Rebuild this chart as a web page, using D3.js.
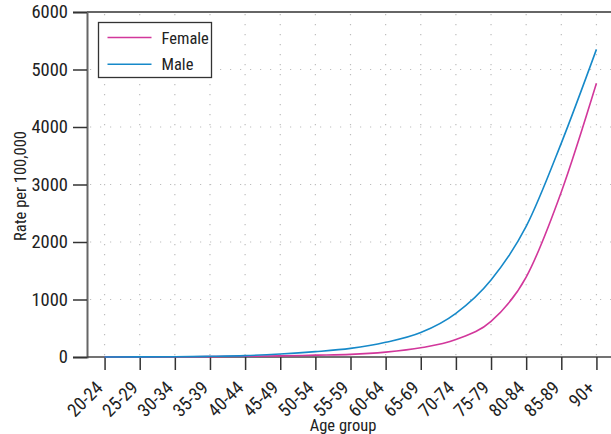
<!DOCTYPE html>
<html>
<head>
<meta charset="utf-8">
<script src="https://cdn.jsdelivr.net/npm/d3@7"></script>
<style>
  html, body { margin: 0; padding: 0; background: #fff; }
  svg { display: block; }
  text { font-family: Roboto, "DejaVu Sans Condensed", sans-serif; font-stretch: condensed; fill: #222; }
</style>
</head>
<body>
<svg id="chart" width="611" height="434"></svg>
<script>
// Age groups along the x axis
const ageGroups = ["20-24", "25-29", "30-34", "35-39", "40-44", "45-49", "50-54",
  "55-59", "60-64", "65-69", "70-74", "75-79", "80-84", "85-89", "90+"];

// Rates per 100,000 by sex
const femaleRates = [1, 2, 4, 7, 12, 20, 32, 45, 85, 160, 305, 620, 1390, 2870, 4760];
const maleRates = [1, 2, 5, 12, 24, 52, 93, 150, 255, 425, 760, 1340, 2270, 3720, 5350];

// Y axis ticks
const yTicks = [0, 1000, 2000, 3000, 4000, 5000, 6000];

const series = [
  { name: "Female", values: femaleRates, color: "#d2379b" },
  { name: "Male", values: maleRates, color: "#1689c9" }
];

const svg = d3.select("#chart");
const plot = { left: 87, right: 614, top: 12, bottom: 357 };

const x = d3.scalePoint()
  .domain(ageGroups)
  .range([plot.left, plot.right])
  .padding(0.5);

const y = d3.scaleLinear()
  .domain([0, 6000])
  .range([plot.bottom, plot.top]);

// Dotted grid
const grid = svg.append("g").attr("class", "grid")
  .attr("stroke", "#bdbdbd").attr("stroke-width", 1.2)
  .attr("stroke-dasharray", "1.2,8.8");

grid.selectAll("line.v").data(ageGroups).join("line")
  .attr("class", "v")
  .attr("x1", d => x(d)).attr("x2", d => x(d))
  .attr("y1", plot.top + 2).attr("y2", plot.bottom);

grid.selectAll("line.h").data(yTicks.filter(t => t > 0 && t < 6000)).join("line")
  .attr("class", "h")
  .attr("x1", plot.left + 3).attr("x2", 611)
  .attr("y1", d => y(d)).attr("y2", d => y(d));

// Top frame line
svg.append("line")
  .attr("x1", plot.left).attr("x2", 611)
  .attr("y1", y(6000)).attr("y2", y(6000))
  .attr("stroke", "#333").attr("stroke-width", 1.6);

// Y axis
const yAxis = svg.append("g")
  .attr("transform", `translate(${plot.left},0)`)
  .call(d3.axisLeft(y).tickValues(yTicks).tickSize(14).tickPadding(5).tickFormat(d3.format("d")));
yAxis.attr("font-family", null).attr("font-size", null);
yAxis.select(".domain").attr("stroke", "#666").attr("stroke-width", 2);
yAxis.selectAll(".tick line").attr("stroke", "#333").attr("stroke-width", 1.5);
yAxis.selectAll(".tick text").attr("font-size", 18.5).attr("fill", "#222");

// X axis with labels rotated so each ends just below its tick
const xAxis = svg.append("g")
  .attr("transform", `translate(0,${plot.bottom})`)
  .call(d3.axisBottom(x).tickSize(13).tickPadding(4));
xAxis.attr("font-family", null).attr("font-size", null);
xAxis.select(".domain").attr("d", `M${plot.left},0H611`).attr("stroke", "#444").attr("stroke-width", 1.6);
xAxis.selectAll(".tick line").attr("stroke", "#333").attr("stroke-width", 1.5);
xAxis.selectAll(".tick text")
  .attr("font-size", 18.5)
  .attr("fill", "#222")
  .attr("text-anchor", "end")
  .attr("x", 0).attr("y", 0)
  .attr("dy", null)
  .attr("transform", "translate(-1,32) rotate(-45)");

// Lines
const line = d3.line()
  .x((d, i) => x(ageGroups[i]))
  .y(d => y(d))
  .curve(d3.curveMonotoneX);

svg.append("g").selectAll("path").data(series).join("path")
  .attr("fill", "none")
  .attr("stroke", d => d.color)
  .attr("stroke-width", 1.6)
  .attr("d", d => line(d.values));

// Legend
const legend = svg.append("g").attr("transform", "translate(98.5,22.5)");
legend.append("rect")
  .attr("width", 113).attr("height", 55)
  .attr("fill", "#fff").attr("stroke", "#333").attr("stroke-width", 1.3);
const items = legend.selectAll("g.item").data(series).join("g")
  .attr("class", "item")
  .attr("transform", (d, i) => `translate(0,${15 + i * 26.7})`);
items.append("line")
  .attr("x1", 9).attr("x2", 53)
  .attr("stroke", d => d.color).attr("stroke-width", 1.6);
items.append("text")
  .attr("x", 63).attr("y", 6)
  .attr("font-size", 16.5)
  .text(d => d.name);

// Axis titles
svg.append("text")
  .attr("x", 343).attr("y", 431)
  .attr("text-anchor", "middle")
  .attr("font-size", 16.5)
  .text("Age group");

svg.append("text")
  .attr("transform", "translate(26,186) rotate(-90)")
  .attr("text-anchor", "middle")
  .attr("font-size", 16.5)
  .text("Rate per 100,000");
</script>
</body>
</html>
